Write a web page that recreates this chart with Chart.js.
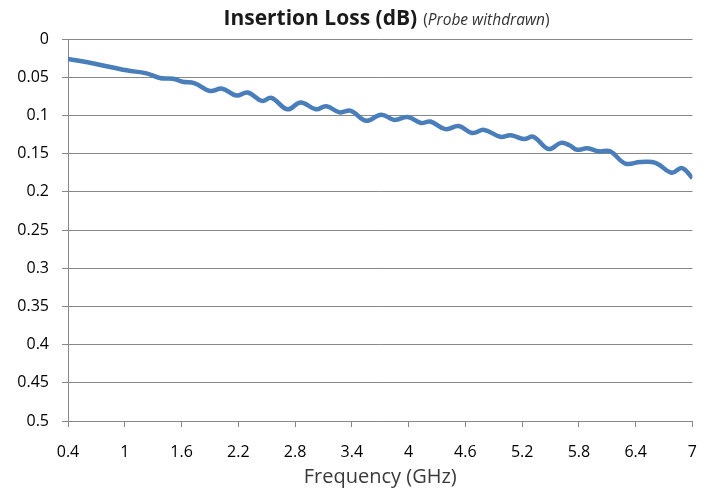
<!DOCTYPE html>
<html lang="en">
<head>
    <meta charset="UTF-8">
    <script src="https://cdn.jsdelivr.net/npm/chart.js"></script>
    <title>Insertion Loss</title>
    <style>
        body {
            margin: 0;
            background: #ffffff;
        }
        .wrap {
            position: relative;
            width: 713px;
            height: 489px;
        }
        .title {
            position: absolute;
            top: 3px;
            left: 0;
            width: 713px;
            padding-left: 60px;
            box-sizing: border-box;
            text-align: center;
            font-family: "Open Sans", Lato, sans-serif;
            color: #1a1a1a;
            white-space: nowrap;
        }
        .title b {
            font-size: 21px;
            font-weight: 700;
        }
        .title span {
            font-size: 15.5px;
            color: #333;
            margin-left: 6px;
        }
    </style>
</head>
<body>
    <div class="wrap">
        <div class="title"><b>Insertion Loss (dB)</b><span>(<i>Probe withdrawn</i>)</span></div>
        <canvas id="lossChart" width="713" height="489"></canvas>
    </div>

    <script>
        // frequency (GHz) and insertion loss (dB)
        const freq = [0.4, 0.67, 1.02, 1.23, 1.37, 1.51, 1.61, 1.74, 1.90, 2.03, 2.18, 2.30, 2.45, 2.55,
            2.72, 2.86, 3.02, 3.13, 3.27, 3.39, 3.55, 3.71, 3.85, 3.99, 4.13, 4.23, 4.39, 4.53,
            4.67, 4.80, 4.97, 5.08, 5.22, 5.32, 5.48, 5.61, 5.70, 5.78, 5.89, 6.01, 6.13, 6.29,
            6.45, 6.61, 6.78, 6.89, 7.0];
        const loss = [0.026, 0.032, 0.041, 0.045, 0.051, 0.052, 0.056, 0.058, 0.068, 0.065, 0.074, 0.070, 0.081, 0.077,
            0.092, 0.083, 0.092, 0.088, 0.096, 0.094, 0.107, 0.099, 0.106, 0.102, 0.110, 0.108, 0.118, 0.114,
            0.123, 0.119, 0.128, 0.126, 0.131, 0.128, 0.144, 0.136, 0.139, 0.145, 0.143, 0.147, 0.147, 0.163,
            0.161, 0.162, 0.175, 0.169, 0.182];

        const xTicks = [0.4, 1, 1.6, 2.2, 2.8, 3.4, 4, 4.6, 5.2, 5.8, 6.4, 7];
        const yTicks = [0, 0.05, 0.1, 0.15, 0.2, 0.25, 0.3, 0.35, 0.4, 0.45, 0.5];

        const gridColor = "#878787";
        const font = { family: "'Open Sans', Lato, sans-serif", size: 16 };

        const ctx = document.getElementById("lossChart").getContext("2d");
        new Chart(ctx, {
            type: "line",
            data: {
                datasets: [{
                    data: freq.map((f, i) => ({ x: f, y: loss[i] })),
                    borderColor: "#4A7EBB",
                    borderWidth: 4.5,
                    pointRadius: 0,
                    tension: 0.4,
                    fill: false
                }]
            },
            options: {
                responsive: false,
                animation: false,
                layout: { padding: { top: 39, right: 19, left: 0, bottom: 0 } },
                plugins: {
                    legend: { display: false },
                    tooltip: { enabled: false }
                },
                scales: {
                    x: {
                        type: "linear",
                        min: 0.4,
                        max: 7,
                        afterBuildTicks: axis => {
                            axis.ticks = xTicks.map(v => ({ value: v }));
                        },
                        afterFit: axis => { axis.height = 68; },
                        grid: {
                            drawOnChartArea: false,
                            drawTicks: true,
                            tickLength: 6,
                            color: gridColor
                        },
                        border: { color: gridColor, width: 1 },
                        ticks: {
                            color: "#000",
                            font: font,
                            padding: 16,
                            maxRotation: 0,
                            autoSkip: false,
                            callback: v => String(+v.toFixed(1))
                        },
                        title: {
                            display: true,
                            text: "Frequency (GHz)",
                            color: "#3a3a3a",
                            font: { family: font.family, size: 20 },
                            padding: { top: 0, bottom: 0 }
                        }
                    },
                    y: {
                        reverse: true,
                        min: 0,
                        max: 0.5,
                        afterBuildTicks: axis => {
                            axis.ticks = yTicks.map(v => ({ value: v }));
                        },
                        afterFit: axis => { axis.width = 68; },
                        grid: {
                            color: gridColor,
                            tickLength: 6,
                            lineWidth: 1
                        },
                        border: { color: gridColor, width: 1 },
                        ticks: {
                            color: "#000",
                            font: font,
                            padding: 13,
                            callback: v => String(+v.toFixed(2))
                        }
                    }
                }
            }
        });
    </script>
</body>
</html>
